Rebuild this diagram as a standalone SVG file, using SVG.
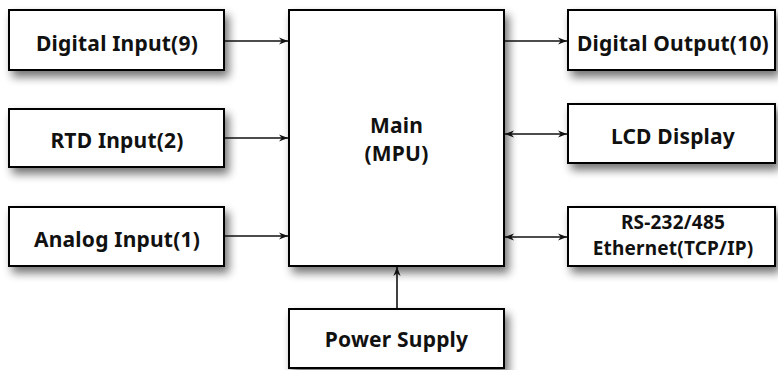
<svg xmlns="http://www.w3.org/2000/svg" width="778" height="370" viewBox="0 0 778 370">
<style>
.box{fill:#fff;stroke:#000;stroke-width:2}
.t{font-family:"Noto Sans","Open Sans",sans-serif;font-weight:bold;font-size:21px;fill:#111;text-anchor:middle;letter-spacing:0.2px}
.s{font-size:19px}
.c{stroke:#111;stroke-width:1.6;fill:none}
</style>
<defs>
<filter id="sh" x="-20%" y="-20%" width="140%" height="150%">
<feGaussianBlur in="SourceAlpha" stdDeviation="5"/>
<feOffset dx="4" dy="6" result="b"/>
<feComponentTransfer><feFuncA type="linear" slope="0.55"/></feComponentTransfer>
<feMerge><feMergeNode/><feMergeNode in="SourceGraphic"/></feMerge>
</filter>
<marker id="ah" viewBox="0 0 10 10" refX="10" refY="5" markerWidth="9" markerHeight="9" markerUnits="userSpaceOnUse" orient="auto-start-reverse">
<path d="M0,1 L10,5 L0,9 L3,5 Z" fill="#111"/>
</marker>
</defs>
<rect width="778" height="370" fill="#fff"/>
<g id="digital-input"><rect class="box" filter="url(#sh)" x="9" y="10" width="215" height="60"/><text class="t" x="117" y="50.5">Digital Input(9)</text></g>
<g id="rtd-input"><rect class="box" filter="url(#sh)" x="9" y="109" width="215" height="58"/><text class="t" x="117" y="148">RTD Input(2)</text></g>
<g id="analog-input"><rect class="box" filter="url(#sh)" x="9" y="207" width="215" height="59"/><text class="t" x="117" y="246.5">Analog Input(1)</text></g>
<g id="main"><rect class="box" filter="url(#sh)" x="289" y="10" width="215" height="256"/><text class="t" x="396.5" y="133">Main</text><text class="t" x="396.5" y="161">(MPU)</text></g>
<g id="digital-output"><rect class="box" filter="url(#sh)" x="568" y="10" width="207" height="60"/><text class="t" x="673" y="50.5">Digital Output(10)</text></g>
<g id="lcd-display"><rect class="box" filter="url(#sh)" x="568" y="104" width="207" height="59"/><text class="t" x="673" y="143.5">LCD Display</text></g>
<g id="comm"><rect class="box" filter="url(#sh)" x="568" y="207" width="207" height="59"/><text class="t s" x="673" y="229">RS-232/485</text><text class="t s" x="673" y="255">Ethernet(TCP/IP)</text></g>
<g id="power-supply"><rect class="box" filter="url(#sh)" x="289" y="309" width="215" height="59"/><text class="t" x="396.5" y="347">Power Supply</text></g>
<g id="connectors">
<line class="c" x1="225" y1="41" x2="288" y2="41" marker-end="url(#ah)"/>
<line class="c" x1="225" y1="138" x2="288" y2="138" marker-end="url(#ah)"/>
<line class="c" x1="225" y1="236" x2="288" y2="236" marker-end="url(#ah)"/>
<line class="c" x1="505" y1="41" x2="567" y2="41" marker-end="url(#ah)"/>
<line class="c" x1="505" y1="134" x2="567" y2="134" marker-start="url(#ah)" marker-end="url(#ah)"/>
<line class="c" x1="505" y1="237" x2="567" y2="237" marker-start="url(#ah)" marker-end="url(#ah)"/>
<line class="c" x1="397" y1="308" x2="397" y2="267" marker-end="url(#ah)"/>
</g>
</svg>
